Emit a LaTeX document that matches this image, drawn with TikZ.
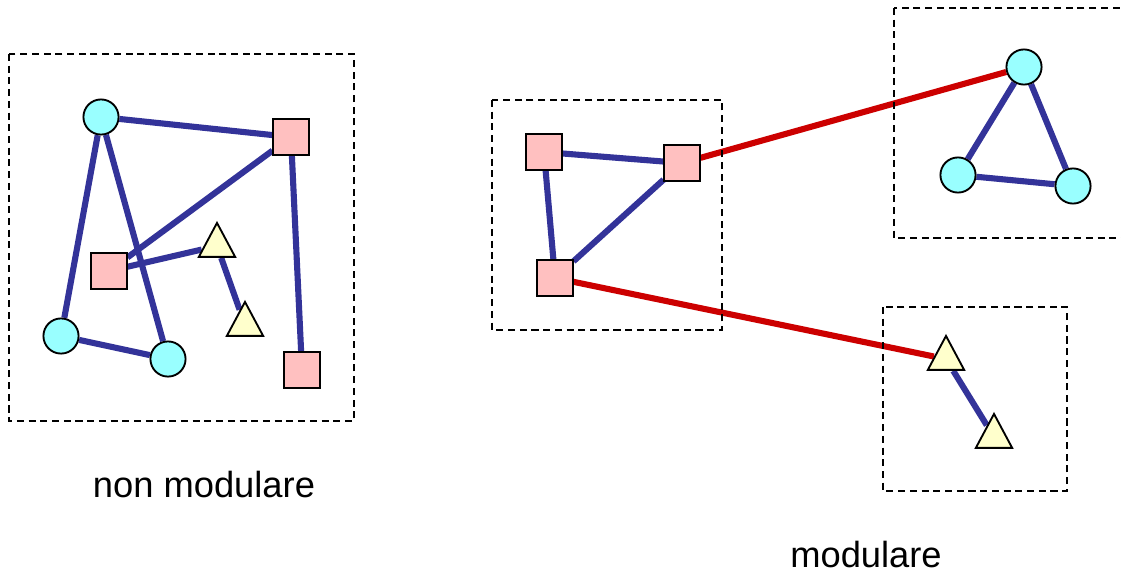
\documentclass[tikz,border=0pt]{standalone}
\usepackage{fontspec}
\setmainfont{Liberation Sans}
\usetikzlibrary{shapes.geometric,backgrounds}

\definecolor{cirkfill}{HTML}{99FFFF}
\definecolor{kvadfill}{HTML}{FFC0C0}
\definecolor{trifill}{HTML}{FFFFCC}
\definecolor{intern}{HTML}{333399}
\definecolor{extern}{HTML}{CC0000}

\tikzset{
  cirk/.style={circle,draw=black,line width=1.6pt,fill=cirkfill,minimum size=30pt,inner sep=0pt},
  kvad/.style={rectangle,draw=black,line width=1.6pt,fill=kvadfill,minimum size=30pt,inner sep=0pt},
  trek/.style={isosceles triangle,isosceles triangle stretches,shape border rotate=90,
    draw=black,line width=1.6pt,fill=trifill,minimum width=31pt,minimum height=29pt,inner sep=0pt},
  modul/.style={draw=black,line width=1.4pt,dash pattern=on 6pt off 4pt},
  blu/.style={draw=intern,line width=5.2pt},
  rosso/.style={draw=extern,line width=5.2pt},
  scritta/.style={font=\fontsize{31}{37}\selectfont}
}

\begin{document}
\begin{tikzpicture}[x=0.03cm,y=-0.03cm]
\useasboundingbox (0,0) rectangle (1121,576);

% non modulare
\draw[modul] (9,54) rectangle (354,421);

\node[cirk] (c1) at (101,117) {};
\node[cirk] (c2) at (61,336) {};
\node[cirk] (c3) at (168,359) {};
\node[kvad] (s1) at (291,137) {};
\node[kvad] (s2) at (109,271) {};
\node[kvad] (s3) at (302,370) {};
\node[trek] (t1) at (217,246) {};
\node[trek] (t2) at (245,325) {};

\begin{pgfonlayer}{background}
\draw[blu] (c1) -- (s1);
\draw[blu] (c1) -- (c2);
\draw[blu] (c1) -- (c3);
\draw[blu] (c2) -- (c3);
\draw[blu] (s1) -- (s2);
\draw[blu] (s1) -- (s3);
\draw[blu] (s2) -- (t1);
\draw[blu] (t1) -- (t2);
\end{pgfonlayer}

\node[scritta] (nm) at (204,485) {non modulare};

% modulare
\draw[modul] (492,100) rectangle (722,330);
\draw[modul] (894,8) rectangle (1140,238);
\draw[modul] (883,307) rectangle (1067,491);

\node[kvad] (m1) at (544,152) {};
\node[kvad] (m2) at (682,163) {};
\node[kvad] (m3) at (555,278) {};

\node[cirk] (r1) at (1024,67) {};
\node[cirk] (r2) at (958,175) {};
\node[cirk] (r3) at (1073,186) {};

\node[trek] (b1) at (946,359) {};
\node[trek] (b2) at (994,437) {};

\begin{pgfonlayer}{background}
\draw[blu] (m1) -- (m2);
\draw[blu] (m1) -- (m3);
\draw[blu] (m2) -- (m3);
\draw[blu] (r1) -- (r2);
\draw[blu] (r1) -- (r3);
\draw[blu] (r2) -- (r3);
\draw[blu] (b1) -- (b2);
\draw[rosso] (m2) -- (r1);
\draw[rosso] (m3) -- (b1);
\end{pgfonlayer}

\node[scritta] (mo) at (866,555) {modulare};
\end{tikzpicture}
\end{document}
